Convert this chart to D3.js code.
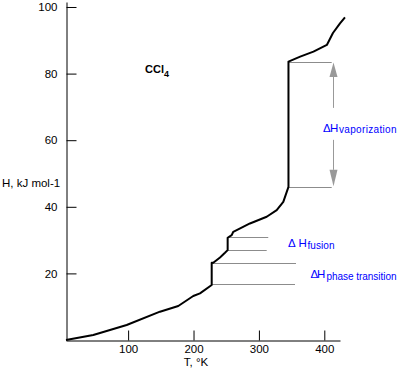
<!DOCTYPE html>
<html><head><meta charset="utf-8">
<script src="https://cdn.jsdelivr.net/npm/d3@7"></script>
<style>
html,body{margin:0;padding:0;background:#fff;}
svg{display:block;font-family:"Liberation Sans",Arial,sans-serif;}
</style>
</head><body>
<svg id="chart" width="400" height="378"></svg>
<script>
// Enthalpy curve of CCl4 (T in K, H in kJ/mol)
const curveT = [5, 46.7, 97.8, 148.7, 176.7, 199.6, 209.9, 227.8, 227.8, 230.2, 240.5, 248.1, 252.2, 252.2, 258.4, 260.8, 286.3, 311.9, 327.2, 337.3, 345.2, 345.2, 363.1, 383.4, 403.9, 413.2, 424, 431.6];
const curveH = [0, 1.5, 4.5, 8.5, 10.2, 13.2, 14.0, 16.5, 23.2, 23.2, 24.8, 26.2, 27.0, 30.7, 31.5, 32.5, 35.0, 37.0, 39.0, 41.5, 46.0, 83.6, 85.1, 86.6, 88.6, 92.2, 95.1, 96.9];
const xTicks = [100, 200, 300, 400];
const yTicks = [20, 40, 60, 80, 100];
// Reference levels (gray guide lines): [T start, T end, H]
const guideT0 = [345.2, 345.2, 252.2, 252.2, 227.8, 227.8];
const guideT1 = [411.3, 411.3, 314.3, 311.9, 356.7, 355.2];
const guideH  = [83.6, 46.0, 30.8, 27.0, 23.2, 16.8];
// Vaporization arrow (T, H levels)
const arrowT = 413.7;
const arrowTopH = [83.3, 79.0, 69.7];   // tip, head base, shaft end
const arrowBotH = [46.2, 51.1, 60.1];   // tip, head base, shaft end

const svg = d3.select("#chart");
const x = d3.scaleLinear().domain([5, 424]).range([66, 340]);
const y = d3.scaleLinear().domain([0, 101.5]).range([340, 2]);

// axes
const xAxis = d3.axisBottom(x).tickValues(xTicks).tickSize(-10).tickSizeOuter(0).tickPadding(4);
const yAxis = d3.axisLeft(y).tickValues(yTicks).tickSize(-10).tickSizeOuter(0).tickPadding(9);
const gx = svg.append("g").attr("transform", "translate(0,340.5)").call(xAxis);
const gy = svg.append("g").attr("transform", "translate(66.5,0)").call(yAxis);
[gx, gy].forEach(g => {
  g.selectAll("path,line").attr("stroke", "#000").attr("stroke-width", 1);
  g.selectAll("text").attr("fill", "#000").attr("font-size", 11.5).attr("font-family", "Liberation Sans, Arial, sans-serif");
});

// axis titles
svg.append("text").attr("x", 196).attr("y", 366).attr("text-anchor", "middle")
  .attr("font-size", 11.5).text("T, °K");
svg.append("text").attr("x", 2).attr("y", 187).attr("font-size", 11.5).text("H, kJ mol-1");

// compound label
const ccl = svg.append("text").attr("x", 145).attr("y", 73).attr("font-size", 11).attr("font-weight", "bold");
ccl.append("tspan").text("CCl");
ccl.append("tspan").attr("dy", 3.5).attr("font-size", 9).text("4");

// guide lines
const guides = guideH.map((h, i) => ({t0: guideT0[i], t1: guideT1[i], h}));
svg.append("g").selectAll("line").data(guides).join("line")
  .attr("x1", d => x(d.t0)).attr("x2", d => x(d.t1))
  .attr("y1", d => Math.round(y(d.h)) + 0.5).attr("y2", d => Math.round(y(d.h)) + 0.5)
  .attr("stroke", "#8c8c8c").attr("stroke-width", 1);

// arrow
const ax = Math.round(x(arrowT)) + 0.5;
const ag = svg.append("g").attr("fill", "#999").attr("stroke", "#999");
ag.append("line").attr("x1", ax).attr("x2", ax).attr("y1", y(arrowTopH[1])).attr("y2", y(arrowTopH[2])).attr("stroke-width", 1);
ag.append("line").attr("x1", ax).attr("x2", ax).attr("y1", y(arrowBotH[1])).attr("y2", y(arrowBotH[2])).attr("stroke-width", 1);
ag.append("path").attr("stroke", "none")
  .attr("d", `M${ax},${y(arrowTopH[0])}L${ax-4},${y(arrowTopH[1])}L${ax+4},${y(arrowTopH[1])}Z`);
ag.append("path").attr("stroke", "none")
  .attr("d", `M${ax},${y(arrowBotH[0])}L${ax-4},${y(arrowBotH[1])}L${ax+4},${y(arrowBotH[1])}Z`);

// curve
const pts = curveT.map((t, i) => [t, curveH[i]]);
svg.append("path").datum(pts)
  .attr("fill", "none").attr("stroke", "#000").attr("stroke-width", 2)
  .attr("stroke-linejoin", "round")
  .attr("d", d3.line().x(d => x(d[0])).y(d => y(d[1])));

// annotation labels: delta x, H x, subscript x, subscript width, baseline
function label(dX, hX, sX, sW, base, sub) {
  const t = svg.append("text").attr("y", base).attr("fill", "#0000ff").attr("font-size", 11.5);
  t.append("tspan").attr("x", dX).text("\u0394");
  t.append("tspan").attr("x", hX).text("H");
  t.append("tspan").attr("x", sX).attr("dy", 1.5).attr("font-size", 10)
    .attr("textLength", sW).attr("lengthAdjust", "spacing").text(sub);
}
label(323, 330, 339, 57.5, 131.5, "vaporization");
label(288, 298.5, 307.5, 27, 247.3, "fusion");
label(310.5, 317, 326.5, 70, 278.3, "phase transition");
</script>
</body></html>
